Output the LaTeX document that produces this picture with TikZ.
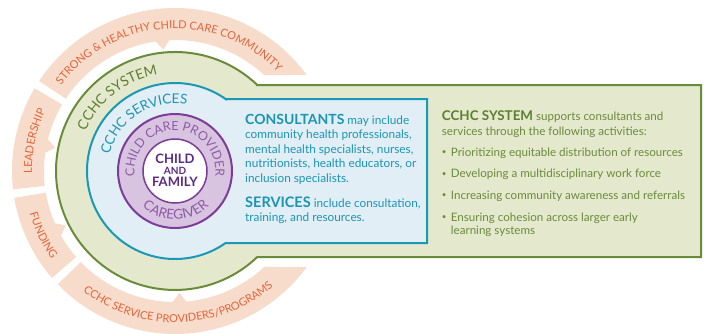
\documentclass[tikz,border=0pt]{standalone}
\usepackage{fontspec}
\setmainfont{Lato}
\usetikzlibrary{decorations.text}
\definecolor{orfill}{HTML}{F8DCCB}
\definecolor{ortext}{HTML}{E3643A}
\definecolor{grfill}{HTML}{E4E9CD}
\definecolor{grline}{HTML}{6A8C3A}
\definecolor{grtext}{HTML}{6B8A3C}
\definecolor{grdark}{HTML}{5E7E30}
\definecolor{blfill}{HTML}{E1EEF5}
\definecolor{blline}{HTML}{1A98B5}
\definecolor{bltext}{HTML}{1C95B5}
\definecolor{pufill}{HTML}{D8C3E0}
\definecolor{puline}{HTML}{7B3D97}
\definecolor{putext}{HTML}{8E5CA6}
\definecolor{pudark}{HTML}{5B2A86}
\tikzset{
  bluetxt/.style={anchor=base west, inner sep=0pt, text=bltext, font=\fontsize{11.8}{13}\selectfont},
  greentxt/.style={anchor=base west, inner sep=0pt, text=grtext, font=\fontsize{11.6}{13}\selectfont},
  bulletdot/.style={anchor=base west, inner sep=0pt, text=grtext, font=\fontsize{8}{8}\selectfont},
  orseg/.style={fill=orfill, draw=none},
  arclabel/.style={decorate, decoration={text along path, text align=center, text={#1}}},
  centertxt/.style={inner sep=0pt, text=pudark, font=\fontsize{13}{13}\selectfont\bfseries}
}
\begin{document}
\begin{tikzpicture}[x=1pt,y=1pt]
\useasboundingbox (-175,-162) rectangle (533,171);
% orange ring segments
\path[orseg] (36.1:163pt) arc[start angle=36.1,end angle=146.5,radius=163pt]
  -- (146.5:131pt) arc[start angle=146.5,end angle=98.5,radius=131pt]
  -- (95.5:122pt) -- (92.5:131pt) arc[start angle=92.5,end angle=47.1,radius=131pt] -- cycle;
\path[orseg] (149.5:163pt) arc[start angle=149.5,end angle=186.5,radius=163pt]
  -- (186.5:131pt) arc[start angle=186.5,end angle=172,radius=131pt]
  -- (169:122pt) -- (166:131pt) arc[start angle=166,end angle=149.5,radius=131pt] -- cycle;
\path[orseg] (189.5:163pt) arc[start angle=189.5,end angle=221,radius=163pt]
  -- (221:131pt) arc[start angle=221,end angle=209.5,radius=131pt]
  -- (206.5:122pt) -- (203.5:131pt) arc[start angle=203.5,end angle=189.5,radius=131pt] -- cycle;
\path[orseg] (224:163pt) arc[start angle=224,end angle=323.9,radius=163pt]
  -- (312.9:131pt) arc[start angle=312.9,end angle=275,radius=131pt]
  -- (272:122pt) -- (269:131pt) arc[start angle=269,end angle=224,radius=131pt] -- cycle;
% green system shape
\filldraw[fill=grfill, draw=grline, line width=2pt] (82.2,86) -- (526,86) -- (526,-86) -- (82.2,-86)
  arc[start angle=-46.3, end angle=-313.7, radius=119pt] -- cycle;
% blue services shape
\filldraw[fill=blfill, draw=blline, line width=2pt] (50.6,72) -- (252,72) -- (252,-72) -- (50.6,-72)
  arc[start angle=-54.9, end angle=-305.1, radius=88pt] -- cycle;
% purple rings
\filldraw[fill=pufill, draw=puline, line width=2pt] (0,0) circle[radius=57pt];
\filldraw[fill=white, draw=puline, line width=1.5pt] (0,0) circle[radius=32pt];
% arc labels
\path[arclabel={|\fontsize{11}{12}\selectfont\color{ortext}|STRONG {\&} HEALTHY CHILD CARE COMMUNITY}]
  (173.5:142.5pt) arc[start angle=173.5,end angle=13.5,radius=142.5pt];
\path[arclabel={|\fontsize{11}{12}\selectfont\color{ortext}|LEADERSHIP}]
  (218:143pt) arc[start angle=218,end angle=118,radius=143pt];
\path[arclabel={|\fontsize{11}{12}\selectfont\color{ortext}|FUNDING}]
  (156:151.5pt) arc[start angle=156,end angle=256,radius=151.5pt];
\path[arclabel={|\fontsize{11}{12}\selectfont\color{ortext}|CCHC SERVICE PROVIDERS/PROGRAMS}]
  (191.5:151.5pt) arc[start angle=191.5,end angle=351.5,radius=151.5pt];
\path[arclabel={|\fontsize{14}{14}\selectfont\color{grdark}|CCHC SYSTEM}]
  (198:98pt) arc[start angle=198,end angle=58,radius=98pt];
\path[arclabel={|\fontsize{13.5}{14}\selectfont\color{bltext}|CCHC SERVICES}]
  (193:67.5pt) arc[start angle=193,end angle=53,radius=67.5pt];
\path[arclabel={|\fontsize{12.5}{13}\selectfont\color{putext}|CHILD CARE PROVIDER}]
  (225:40.5pt) arc[start angle=225,end angle=-45,radius=40.5pt];
\path[arclabel={|\fontsize{13.5}{14}\selectfont\color{putext}|CAREGIVER}]
  (181:48.5pt) arc[start angle=181,end angle=361,radius=48.5pt];
% center text
\node[centertxt] (child) at (0,12) {CHILD};
\node[centertxt, font=\fontsize{10}{10}\selectfont\bfseries] (and) at (0,0.5) {AND};
\node[centertxt] (family) at (0,-11) {FAMILY};
% blue box text
\node[bluetxt] (b1) at (70,47) {{\fontsize{14}{14}\selectfont\bfseries CONSULTANTS} may include};
\node[bluetxt] (b2) at (70,32.5) {community health professionals,};
\node[bluetxt] (b3) at (70,18) {mental health specialists, nurses,};
\node[bluetxt] (b4) at (70,3.5) {nutritionists, health educators, or};
\node[bluetxt] (b5) at (70,-11) {inclusion specialists.};
\node[bluetxt] (b6) at (70,-36) {{\fontsize{14.5}{15}\selectfont\bfseries SERVICES} include consultation,};
\node[bluetxt] (b7) at (70,-50.5) {training, and resources.};
% green box text
\node[greentxt] (g1) at (266.7,50.3) {{\fontsize{13.4}{14}\selectfont\bfseries\color{grdark}CCHC SYSTEM} supports consultants and};
\node[greentxt] (g2) at (266.7,35.3) {services through the following activities:};
\node[bulletdot] (d1) at (266.7,16.5) {\textbullet};
\node[greentxt] (g3) at (275.7,15) {Prioritizing equitable distribution of resources};
\node[bulletdot] (d2) at (266.7,-5.2) {\textbullet};
\node[greentxt] (g4) at (275.7,-6.7) {Developing a multidisciplinary work force};
\node[bulletdot] (d3) at (266.7,-26.8) {\textbullet};
\node[greentxt] (g5) at (275.7,-28.3) {Increasing community awareness and referrals};
\node[bulletdot] (d4) at (266.7,-48.5) {\textbullet};
\node[greentxt] (g6) at (275.7,-50) {Ensuring cohesion across larger early};
\node[greentxt] (g7) at (275.7,-63.3) {learning systems};
\end{tikzpicture}
\end{document}
